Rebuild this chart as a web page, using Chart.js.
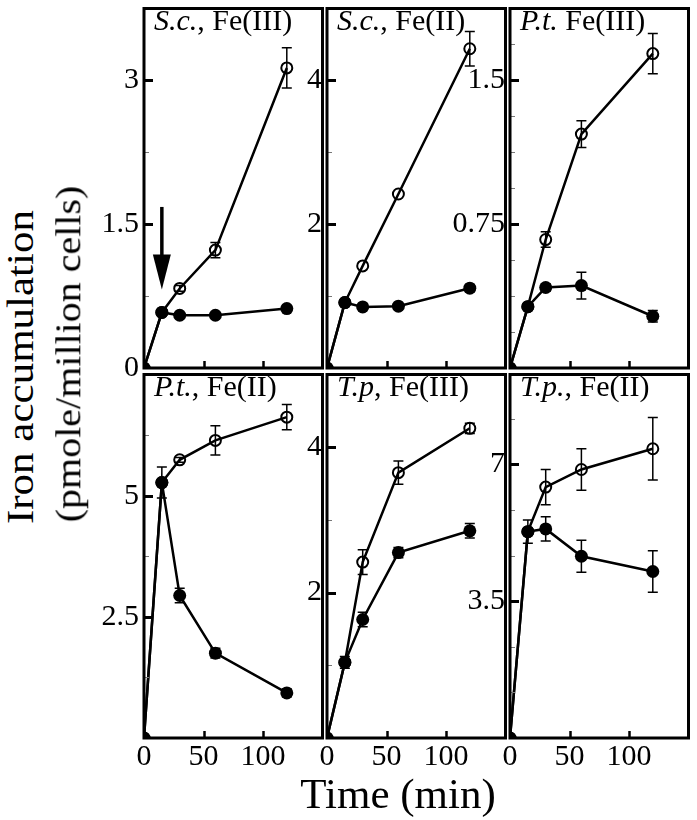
<!DOCTYPE html>
<html>
<head>
<meta charset="utf-8">
<script src="https://cdn.jsdelivr.net/npm/chart.js@4.4.0/dist/chart.umd.min.js"></script>
<style>
  body { margin: 0; background: #fff; }
  #fig { position: relative; width: 697px; height: 820px; overflow: hidden; font-family: 'Liberation Serif', 'Times New Roman', serif; color: #000; }
  #fig canvas { position: absolute; }
  .ptitle { position: absolute; font-size: 30px; line-height: 30px; white-space: nowrap; z-index: 5; }
  .ytitle { position: absolute; line-height: 1; white-space: nowrap; transform: translate(-50%, -50%) rotate(-90deg) scale(1, 0.9); z-index: 5; }
  .xtitle { position: absolute; font-size: 43px; line-height: 43px; white-space: nowrap; transform: translateX(-50%); z-index: 5; }
</style>
</head>
<body>
<div id="fig">
  <div class="ytitle" style="left:20px; top:367px; font-size:43px">Iron accumulation</div>
  <div class="ytitle" style="left:69px; top:354px; font-size:40px">(pmole/million cells)</div>
  <div class="xtitle" style="left:398px; top:772px">Time (min)</div>
</div>
<script>
// sampling times (min)
var times = [0, 15, 30, 60, 120]

// S. cerevisiae, Fe(III)
var scFe3Filled = [0, 0.58, 0.55, 0.55, 0.62]
var scFe3Open = [0, 0.58, 0.83, 1.23, 3.13]
var scFe3FilledErr = [0, 0, 0, 0, 0]
var scFe3OpenErr = [0, 0, 0.03, 0.08, 0.21]

// S. cerevisiae, Fe(II)
var scFe2Filled = [0, 0.91, 0.85, 0.86, 1.11]
var scFe2Open = [0, 0.91, 1.42, 2.42, 4.44]
var scFe2FilledErr = [0, 0, 0, 0, 0.05]
var scFe2OpenErr = [0, 0, 0, 0, 0.24]

// P. tannophilus, Fe(III)
var ptFe3Filled = [0, 0.32, 0.42, 0.43, 0.27]
var ptFe3Open = [0, 0.32, 0.67, 1.22, 1.64]
var ptFe3FilledErr = [0, 0, 0.02, 0.07, 0.03]
var ptFe3OpenErr = [0, 0, 0.04, 0.07, 0.105]

// P. tannophilus, Fe(II)
var ptFe2Filled = [0, 5.27, 2.94, 1.75, 0.93]
var ptFe2Open = [0, 5.27, 5.74, 6.14, 6.62]
var ptFe2FilledErr = [0, 0.32, 0.15, 0.1, 0.08]
var ptFe2OpenErr = [0, 0, 0.05, 0.3, 0.26]

// T. pullulans, Fe(III)
var tpFe3Filled = [0, 1.04, 1.63, 2.55, 2.85]
var tpFe3Open = [0, 1.04, 2.42, 3.65, 4.26]
var tpFe3FilledErr = [0, 0.08, 0.1, 0.07, 0.1]
var tpFe3OpenErr = [0, 0, 0.17, 0.16, 0.07]

// T. pullulans, Fe(II)
var tpFe2Filled = [0, 5.28, 5.35, 4.65, 4.26]
var tpFe2Open = [0, 5.28, 6.42, 6.87, 7.4]
var tpFe2FilledErr = [0, 0.3, 0.31, 0.41, 0.53]
var tpFe2OpenErr = [0, 0, 0.45, 0.53, 0.8]

var titleItalic = ['S.c.', 'S.c.', 'P.t.', 'P.t.', 'T.p', 'T.p.']
var titleRest = [', Fe(III)', ', Fe(II)', ' Fe(III)', ', Fe(II)', ', Fe(III)', ', Fe(II)']

// y axes: top value, minor tick step, labelled values
var yMaxes = [3.75, 5, 1.875, 7.5, 5, 9.3]
var ySteps = [0.75, 1, 0.1875, 1.25, 1, 7 / 6]
var yLabelVals = [[0, 1.5, 3], [2, 4], [0.75, 1.5], [2.5, 5], [2, 4], [3.5, 7]]
var xMax = 150
var xLabelVals = [0, 50, 100]

// arrow in first panel (time, from, to)
var arrowX = 15
var arrowFrom = 1.68
var arrowTo = 0.82

var filledSets = [scFe3Filled, scFe2Filled, ptFe3Filled, ptFe2Filled, tpFe3Filled, tpFe2Filled]
var openSets = [scFe3Open, scFe2Open, ptFe3Open, ptFe2Open, tpFe3Open, tpFe2Open]
var filledErrs = [scFe3FilledErr, scFe2FilledErr, ptFe3FilledErr, ptFe2FilledErr, tpFe3FilledErr, tpFe2FilledErr]
var openErrs = [scFe3OpenErr, scFe2OpenErr, ptFe3OpenErr, ptFe2OpenErr, tpFe3OpenErr, tpFe2OpenErr]

// layout
var colLeft = [144, 327, 510]
var rowTop = [5, 371]
var plotW = 182
var plotH = [363, 367]
var axisW = 72
var padTop = 4
var padRight = 4
var xAxisH = [24, 50]

Chart.defaults.font.family = "'Liberation Serif', 'Times New Roman', serif"
Chart.defaults.font.size = 30
Chart.defaults.color = '#000'

var fig = document.getElementById('fig')

function toPoints(vals) {
  var pts = []
  for (var i = 0; i < times.length; i++) {
    pts.push({ x: times[i], y: vals[i] })
  }
  return pts
}

function findLabel(value, list) {
  for (var k = 0; k < list.length; k++) {
    if (Math.abs(list[k] - value) < 1e-6) return String(list[k])
  }
  return ''
}

var decoPlugin = {
  id: 'panelDeco',
  beforeDatasetsDraw: function(chart, args, opts) {
    var ctx = chart.ctx
    var xs = chart.scales.x, ys = chart.scales.y
    ctx.save()
    ctx.strokeStyle = '#000'
    ctx.lineWidth = 1.5
    for (var d = 0; d < opts.errs.length; d++) {
      var vals = opts.vals[d], errs = opts.errs[d]
      for (var j = 0; j < vals.length; j++) {
        if (!errs[j]) continue
        var x = xs.getPixelForValue(times[j])
        var y1 = ys.getPixelForValue(vals[j] + errs[j])
        var y2 = ys.getPixelForValue(vals[j] - errs[j])
        ctx.beginPath()
        ctx.moveTo(x, y1); ctx.lineTo(x, y2)
        ctx.moveTo(x - 5, y1); ctx.lineTo(x + 5, y1)
        ctx.moveTo(x - 5, y2); ctx.lineTo(x + 5, y2)
        ctx.stroke()
      }
    }
    ctx.restore()
  },
  afterDraw: function(chart, args, opts) {
    var ctx = chart.ctx
    var a = chart.chartArea
    var xs = chart.scales.x, ys = chart.scales.y
    ctx.save()
    // y ticks pointing inwards
    ys.ticks.forEach(function(t) {
      if (t.value <= ys.min + 1e-9 || t.value >= ys.max - 1e-9) return
      var y = Math.round(ys.getPixelForValue(t.value)) + 0.5
      ctx.beginPath()
      if (t.label !== '') {
        ctx.lineWidth = 3
        ctx.strokeStyle = '#000'
        ctx.moveTo(a.left, y); ctx.lineTo(a.left + 9, y)
      } else {
        ctx.lineWidth = 1
        ctx.strokeStyle = '#777'
        ctx.moveTo(a.left, y); ctx.lineTo(a.left + 5, y)
      }
      ctx.stroke()
    })
    // x ticks
    ctx.strokeStyle = '#000'
    ctx.lineWidth = 2.5
    xLabelVals.forEach(function(v) {
      if (v <= xs.min) return
      var x = Math.round(xs.getPixelForValue(v)) + 0.5
      ctx.beginPath()
      ctx.moveTo(x, a.bottom); ctx.lineTo(x, a.bottom - 7)
      ctx.stroke()
    })
    // frame
    ctx.lineWidth = 3
    ctx.strokeRect(a.left, a.top, a.right - a.left, a.bottom - a.top)
    // arrow
    if (opts.arrow) {
      var ax = xs.getPixelForValue(opts.arrow.x)
      var ay1 = ys.getPixelForValue(opts.arrow.from)
      var ay2 = ys.getPixelForValue(opts.arrow.to)
      ctx.lineWidth = 3.5
      ctx.beginPath()
      ctx.moveTo(ax, ay1); ctx.lineTo(ax, ay2 - 30)
      ctx.stroke()
      ctx.fillStyle = '#000'
      ctx.beginPath()
      ctx.moveTo(ax - 9, ay2 - 35)
      ctx.lineTo(ax + 9, ay2 - 35)
      ctx.lineTo(ax, ay2)
      ctx.closePath()
      ctx.fill()
    }
    ctx.restore()
  }
}

function buildPanel(i) {
  var col = i % 3
  var row = Math.floor(i / 3)
  var canvas = document.createElement('canvas')
  canvas.width = axisW + plotW + padRight
  canvas.height = padTop + plotH[row] + xAxisH[row]
  canvas.style.left = (colLeft[col] - axisW) + 'px'
  canvas.style.top = (rowTop[row] - padTop) + 'px'
  fig.appendChild(canvas)

  var title = document.createElement('div')
  title.className = 'ptitle'
  title.style.left = (colLeft[col] + 10) + 'px'
  title.style.top = rowTop[row] + 'px'
  var it = document.createElement('i')
  it.textContent = titleItalic[i]
  title.appendChild(it)
  title.appendChild(document.createTextNode(titleRest[i]))
  fig.appendChild(title)

  return new Chart(canvas, {
    type: 'line',
    data: {
      datasets: [{
        label: 'filled',
        data: toPoints(filledSets[i]),
        borderColor: '#000',
        borderWidth: 2.5,
        pointRadius: 6.5,
        pointBackgroundColor: '#000',
        pointBorderWidth: 0,
        tension: 0,
        order: 0
      }, {
        label: 'open',
        data: toPoints(openSets[i]),
        borderColor: '#000',
        borderWidth: 2.5,
        pointRadius: 5.5,
        pointBackgroundColor: 'rgba(255, 255, 255, 0)',
        pointBorderColor: '#000',
        pointBorderWidth: 2,
        tension: 0,
        order: 1
      }]
    },
    options: {
      responsive: false,
      animation: false,
      devicePixelRatio: 1,
      events: [],
      layout: { padding: { top: padTop, right: padRight, left: 0, bottom: 0 } },
      plugins: {
        legend: { display: false },
        tooltip: { enabled: false },
        panelDeco: {
          vals: [filledSets[i], openSets[i]],
          errs: [filledErrs[i], openErrs[i]],
          arrow: i === 0 ? { x: arrowX, from: arrowFrom, to: arrowTo } : null
        }
      },
      scales: {
        x: {
          type: 'linear',
          min: 0,
          max: xMax,
          grid: { display: false, drawTicks: false },
          border: { display: false },
          ticks: {
            display: row === 1,
            stepSize: 50,
            padding: 1,
            autoSkip: false,
            maxRotation: 0,
            callback: function(v) { return findLabel(v, xLabelVals) }
          },
          afterFit: function(s) {
            s.height = xAxisH[row]
            s.paddingLeft = 0
            s.paddingRight = 0
          }
        },
        y: {
          type: 'linear',
          min: 0,
          max: yMaxes[i],
          grid: { display: false, drawTicks: false },
          border: { display: false },
          ticks: {
            stepSize: ySteps[i],
            padding: 5,
            autoSkip: false,
            callback: function(v) { return findLabel(v, yLabelVals[i]) }
          },
          afterFit: function(s) {
            s.width = axisW
            s.paddingTop = 0
            s.paddingBottom = 0
          }
        }
      }
    },
    plugins: [decoPlugin]
  })
}

for (var p = 0; p < 6; p++) {
  buildPanel(p)
}
</script>
</body>
</html>
